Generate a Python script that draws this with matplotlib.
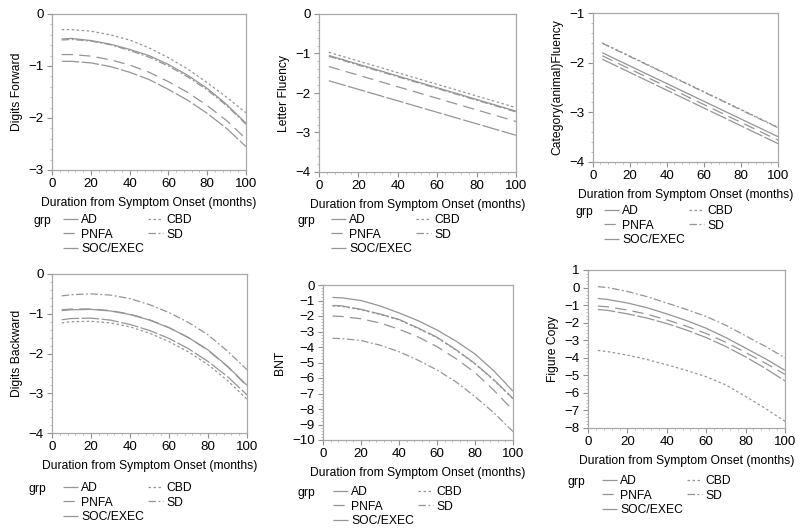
import matplotlib
matplotlib.use("Agg")
import matplotlib.pyplot as plt
from matplotlib.lines import Line2D
from matplotlib.ticker import MultipleLocator, AutoMinorLocator

plt.rcParams['font.family'] = ['Liberation Sans', 'DejaVu Sans']
plt.rcParams['font.size'] = 8.7

groups = ["AD", "PNFA", "SOC/EXEC", "CBD", "SD"]

months_curve = [5, 10, 20, 30, 40, 50, 60, 70, 80, 90, 100]
months_line = [5, 100]

# Digits Forward (curved)
digits_fwd = {
    "AD":       [-0.48, -0.47, -0.51, -0.58, -0.68, -0.80, -0.97, -1.18, -1.43, -1.74, -2.10],
    "PNFA":     [-0.78, -0.78, -0.81, -0.88, -0.98, -1.12, -1.30, -1.51, -1.76, -2.05, -2.40],
    "SOC/EXEC": [-0.91, -0.91, -0.94, -1.01, -1.12, -1.26, -1.45, -1.66, -1.91, -2.20, -2.55],
    "CBD":      [-0.30, -0.30, -0.33, -0.40, -0.50, -0.65, -0.84, -1.06, -1.32, -1.60, -1.90],
    "SD":       [-0.50, -0.49, -0.52, -0.59, -0.70, -0.83, -1.00, -1.21, -1.46, -1.76, -2.12],
}

# Letter Fluency (straight lines)
letter_flu = {
    "AD":       [-1.05, -2.46],
    "PNFA":     [-1.33, -2.72],
    "SOC/EXEC": [-1.69, -3.07],
    "CBD":      [-0.97, -2.37],
    "SD":       [-1.07, -2.48],
}

# Category (animal) Fluency (straight lines)
category_flu = {
    "AD":       [-1.80, -3.49],
    "PNFA":     [-1.86, -3.56],
    "SOC/EXEC": [-1.93, -3.63],
    "CBD":      [-1.60, -3.30],
    "SD":       [-1.61, -3.31],
}

# Digits Backward (curved)
digits_bwd = {
    "AD":       [-0.92, -0.90, -0.89, -0.93, -1.02, -1.16, -1.35, -1.60, -1.91, -2.32, -2.80],
    "PNFA":     [-0.90, -0.88, -0.88, -0.92, -1.01, -1.15, -1.35, -1.60, -1.92, -2.33, -2.82],
    "SOC/EXEC": [-1.15, -1.12, -1.11, -1.16, -1.27, -1.42, -1.62, -1.88, -2.20, -2.58, -3.04],
    "CBD":      [-1.23, -1.20, -1.19, -1.23, -1.33, -1.49, -1.70, -1.96, -2.28, -2.68, -3.15],
    "SD":       [-0.55, -0.52, -0.50, -0.53, -0.62, -0.77, -0.97, -1.22, -1.53, -1.94, -2.41],
}

# BNT (curved)
bnt = {
    "AD":       [-0.80, -0.83, -1.00, -1.35, -1.80, -2.30, -2.90, -3.62, -4.45, -5.55, -6.85],
    "PNFA":     [-2.00, -2.03, -2.18, -2.45, -2.85, -3.35, -3.98, -4.75, -5.65, -6.80, -8.08],
    "SOC/EXEC": [-1.32, -1.35, -1.57, -1.87, -2.22, -2.77, -3.37, -4.17, -5.07, -6.12, -7.32],
    "CBD":      [-1.35, -1.38, -1.60, -1.90, -2.25, -2.80, -3.40, -4.20, -5.10, -6.15, -7.35],
    "SD":       [-3.44, -3.46, -3.58, -3.88, -4.30, -4.85, -5.48, -6.25, -7.20, -8.25, -9.46],
}

# Figure Copy (curved)
figure_copy = {
    "AD":       [-0.62, -0.68, -0.88, -1.15, -1.50, -1.88, -2.32, -2.85, -3.45, -4.05, -4.72],
    "PNFA":     [-1.05, -1.10, -1.28, -1.52, -1.84, -2.20, -2.62, -3.12, -3.70, -4.30, -4.95],
    "SOC/EXEC": [-1.25, -1.30, -1.50, -1.74, -2.05, -2.42, -2.85, -3.36, -3.95, -4.60, -5.32],
    "CBD":      [-3.58, -3.65, -3.85, -4.10, -4.40, -4.72, -5.08, -5.55, -6.20, -6.88, -7.62],
    "SD":       [0.05, 0.00, -0.22, -0.52, -0.88, -1.25, -1.65, -2.15, -2.75, -3.35, -4.00],
}

styles = {
    "AD": (0, ()),
    "PNFA": (0, (9, 5)),
    "SOC/EXEC": (0, (14, 2)),
    "CBD": (0, (2, 2)),
    "SD": (0, (6, 2, 1.5, 2)),
}
line_color = "#959595"

# panel: (title, x, data, ylim, box px [l, t, r, b], legend handle x, legend row y, grp x)
panels = [
    ("Digits Forward", months_curve, digits_fwd, (-3, 0), [52, 14, 246, 170], 63, 220, 33),
    ("Letter Fluency", months_line, letter_flu, (-4, 0), [319, 14, 516, 172], 331, 220, 298),
    ("Category(animal)Fluency", months_line, category_flu, (-4, -1), [593, 13, 778, 162], 604, 211, 575),
    ("Digits Backward", months_curve, digits_bwd, (-4, 0), [52, 274, 247, 433], 63, 488, 28),
    ("BNT", months_curve, bnt, (-10, 0), [323, 285, 513, 440], 333, 492, 298),
    ("Figure Copy", months_curve, figure_copy, (-8, 1), [588, 270, 785, 428], 602, 481, 567),
]

W, H = 800, 530
fig = plt.figure(figsize=(8, 5.3), dpi=100)

for name, xs, data, ylim, box, hx, hy, gx in panels:
    l, t, r, b = box
    ax = fig.add_axes([l / W, 1 - b / H, (r - l) / W, (b - t) / H])
    for g in groups:
        ax.plot(xs, data[g], color=line_color, lw=0.9, linestyle=styles[g])
    ax.set_xlim(0, 100)
    ax.set_ylim(*ylim)
    ax.xaxis.set_major_locator(MultipleLocator(20))
    ax.yaxis.set_major_locator(MultipleLocator(1))
    ax.xaxis.set_minor_locator(AutoMinorLocator(5))
    ax.yaxis.set_minor_locator(AutoMinorLocator(5))
    ax.tick_params(which='major', length=3.5, width=0.8, color="#909090", pad=2.5,
                   labelsize=9.6)
    ax.tick_params(which='minor', length=1.5, width=0.6, color="#b0b0b0")
    for s in ax.spines.values():
        s.set_color("#a8a8a8")
        s.set_linewidth(0.9)
    ax.set_ylabel(name)
    ax.set_xlabel("Duration from Symptom Onset (months)", labelpad=5)

    handles = [Line2D([], [], color=line_color, lw=0.9, linestyle=styles[g]) for g in groups]
    fig.legend(handles, groups, loc='upper left',
               bbox_to_anchor=(hx / W, 1 - (hy - 6) / H),
               ncol=2, frameon=False, borderpad=0, handlelength=1.2,
               handletextpad=0.3, columnspacing=0.35, labelspacing=0.22,
               borderaxespad=0)
    fig.text(gx / W, 1 - (hy + 1) / H, "grp", ha='left', va='center')

fig.savefig("out.png", dpi=100)
